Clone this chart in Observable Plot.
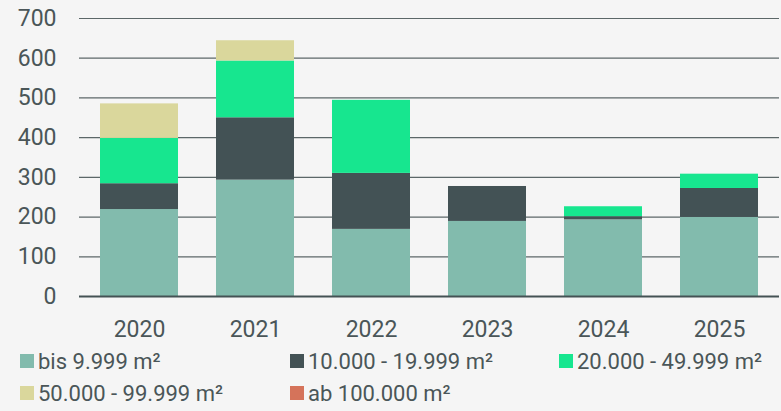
<!DOCTYPE html>
<html>
<head>
<meta charset="utf-8">
<script src="https://cdn.jsdelivr.net/npm/d3@7"></script>
<script src="https://cdn.jsdelivr.net/npm/@observablehq/plot@0.6"></script>
<style>
  html, body { margin: 0; padding: 0; background: #f5f5f5; }
  #chart { width: 781px; height: 411px; background: #f5f5f5; font-family: Roboto, sans-serif; color: #4a5658; }
  .legend { position: relative; height: 66px; font-size: 22px; }
  .item { position: absolute; display: flex; align-items: center; white-space: nowrap; }
  .sw { width: 14px; height: 14px; margin-right: 4px; }
</style>
</head>
<body>
<div id="chart"></div>
<script>
const years = ["2020", "2021", "2022", "2023", "2024", "2025"];
const seriesNames = ["bis 9.999 m²", "10.000 - 19.999 m²", "20.000 - 49.999 m²", "50.000 - 99.999 m²", "ab 100.000 m²"];
const seriesColors = ["#82bbad", "#435255", "#17e68f", "#dad79c", "#d5735a"];
const bis9999 = [219, 293, 169, 189, 193, 199];
const s10000 = [65, 157, 141, 88, 8, 73];
const s20000 = [114, 143, 184, 0, 25, 36];
const s50000 = [87, 51, 0, 0, 0, 0];
const ab100000 = [0, 0, 0, 0, 0, 0];
const yTicks = [0, 100, 200, 300, 400, 500, 600, 700];

const seriesValues = [bis9999, s10000, s20000, s50000, ab100000];
const data = [];
seriesValues.forEach((vals, si) => {
  vals.forEach((v, i) => data.push({year: years[i], series: seriesNames[si], order: si, value: v}));
});

const plot = Plot.plot({
  width: 781,
  height: 345,
  marginLeft: 79,
  marginRight: 2,
  marginTop: 18,
  marginBottom: 49,
  style: {background: "#f5f5f5", fontSize: "23px", fontFamily: "Roboto, sans-serif", color: "#4a5658"},
  x: {domain: years, paddingInner: 0.33, paddingOuter: 0.16, label: null},
  y: {domain: [0, 700], label: null},
  color: {domain: seriesNames, range: seriesColors},
  marks: [
    Plot.ruleY(yTicks.filter(d => d > 0), {stroke: "#5c6768", strokeWidth: 1.2}),
    Plot.barY(data, {x: "year", y: "value", fill: "series", order: seriesNames, z: "series"}),
    Plot.ruleY([0], {stroke: "#445254", strokeWidth: 2}),
    Plot.axisX({tickSize: 0, tickPadding: 24, label: null, fill: "#4a5658"}),
    Plot.axisY({ticks: yTicks, tickSize: 0, tickPadding: 23, label: null, fill: "#4a5658", tickFormat: d => String(d)})
  ]
});

const chart = document.getElementById("chart");
chart.appendChild(plot);

const legend = document.createElement("div");
legend.className = "legend";
const pos = [[20, 4], [290, 4], [559, 4], [20, 36], [290, 36]];
seriesNames.forEach((name, i) => {
  const item = document.createElement("div");
  item.className = "item";
  item.style.left = pos[i][0] + "px";
  item.style.top = pos[i][1] + "px";
  item.style.height = "24px";
  const sw = document.createElement("span");
  sw.className = "sw";
  sw.style.background = seriesColors[i];
  const t = document.createElement("span");
  t.textContent = name;
  item.appendChild(sw);
  item.appendChild(t);
  legend.appendChild(item);
});
chart.appendChild(legend);
</script>
</body>
</html>
